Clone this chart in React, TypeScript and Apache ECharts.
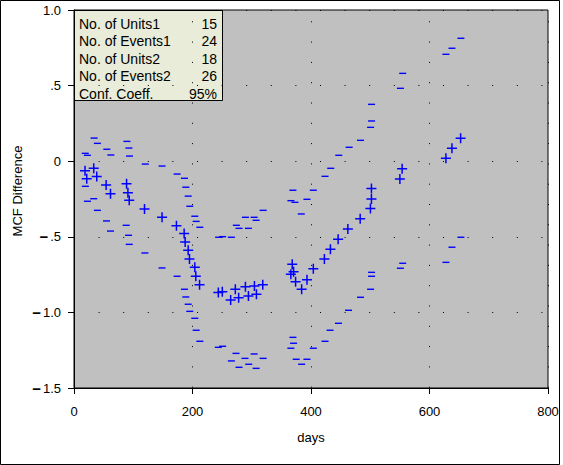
import { useEffect, useRef } from "react";
import * as echarts from "echarts";

// MCF difference estimate (days, value)
const mcfDiff: [number, number][] = [
  [18.6, -0.063], [21.5, -0.116], [33.3, -0.047], [38.4, -0.102], [54.2, -0.157],
  [61.6, -0.215], [88.7, -0.149], [91, -0.208], [93.2, -0.259], [119, -0.316],
  [148.6, -0.371], [172.9, -0.427], [185.9, -0.479], [187.6, -0.534], [192.7, -0.589],
  [194.9, -0.647], [203.9, -0.702], [205.6, -0.761], [211.9, -0.817], [243.6, -0.869],
  [250.3, -0.863], [264.4, -0.918], [272.3, -0.847], [277.9, -0.903], [289.3, -0.83],
  [294.4, -0.892], [304.5, -0.825], [307.9, -0.88], [318.6, -0.817], [366, -0.748],
  [368.3, -0.682], [370.6, -0.731], [374, -0.797], [384.2, -0.847], [393.2, -0.784],
  [403.9, -0.711], [422.6, -0.647], [432.8, -0.583], [445.8, -0.517], [462.2, -0.448],
  [483, -0.38], [500.3, -0.313], [502, -0.25], [502, -0.18], [550, -0.118],
  [553.8, -0.05], [627.7, 0.019], [637.9, 0.085], [652.5, 0.151],
];

// upper confidence limit
const upperLimit: [number, number][] = [
  [19, 0.052], [22.6, 0.039], [33.9, 0.153], [39.5, 0.118], [55.4, 0.079],
  [62.2, 0.041], [89.3, 0.131], [92.7, 0.087], [93.7, 0.034], [120.3, -0.019],
  [148.6, -0.032], [174, -0.085], [186.4, -0.113], [188.7, -0.172], [192.7, -0.231],
  [195.4, -0.298], [203.9, -0.364], [206.2, -0.398], [212.4, -0.437], [244.1, -0.503],
  [250.9, -0.499], [265.6, -0.503], [274, -0.424], [278.5, -0.444], [289.3, -0.371],
  [294.4, -0.444], [304, -0.371], [307.4, -0.391], [319.2, -0.325], [366.1, -0.261],
  [369.5, -0.192], [372.9, -0.272], [383.6, -0.349], [393.2, -0.252], [403.9, -0.192],
  [423.7, -0.1], [433.3, -0.047], [446.9, 0.039], [464.4, 0.092], [483.6, 0.138],
  [500.6, 0.224], [502.2, 0.266], [502.2, 0.376], [550.9, 0.482], [554.8, 0.581],
  [627.7, 0.707], [637.9, 0.747], [653, 0.813],
];

// lower confidence limit
const lowerLimit: [number, number][] = [
  [19.2, -0.166], [22.6, -0.265], [33.3, -0.248], [39.5, -0.325], [54.8, -0.395],
  [61.6, -0.462], [88.1, -0.424], [92.1, -0.49], [93.2, -0.55], [119.7, -0.607],
  [148.6, -0.706], [174, -0.761], [186.4, -0.847], [188.7, -0.898], [192.7, -0.946],
  [195.4, -0.993], [203.9, -1.039], [206.2, -1.118], [212.4, -1.191], [243.6, -1.231],
  [250.9, -1.224], [265.6, -1.321], [273.4, -1.271], [278.5, -1.363], [288.6, -1.304],
  [294.9, -1.343], [304, -1.275], [307.4, -1.37], [319.2, -1.304], [366, -1.237],
  [369.5, -1.165], [370.6, -1.204], [375, -1.31], [384.2, -1.343], [393.2, -1.31],
  [403.9, -1.237], [423.7, -1.191], [432.2, -1.118], [446.3, -1.072], [463.3, -0.986],
  [483.6, -0.9], [500.6, -0.847], [502.2, -0.761], [502.2, -0.735], [550.9, -0.708],
  [554.8, -0.675], [627.7, -0.669], [637.9, -0.569], [653, -0.503],
];

const legendLabels = ["No. of Units1", "No. of Events1", "No. of Units2", "No. of Events2", "Conf. Coeff."];
const legendValues = ["15", "24", "18", "26", "95%"];

const FONT = "'Liberation Sans', Arial, sans-serif";
const BLUE = "#0000FF";

function yLabel(v: number) {
  if (v === 0) return "0";
  const a = Math.abs(v);
  const s = a >= 1 ? a.toFixed(1) : a.toFixed(1).replace(/^0/, "");
  return v < 0 ? `{m|\u2212}${s}` : s;
}

export default function App() {
  const chartRef = useRef<HTMLDivElement>(null);

  useEffect(() => {
    if (!chartRef.current) return;
    const chart = echarts.init(chartRef.current, null, { renderer: "svg" });

    const rowY = [23.5, 41, 58.5, 76, 93.5];
    const legendTexts: any[] = [];
    legendLabels.forEach((t, i) => {
      legendTexts.push({
        type: "text",
        style: { text: t, x: 79, y: rowY[i], fill: "#000", fontSize: 14, fontFamily: FONT, align: "left", verticalAlign: "middle" },
      });
      legendTexts.push({
        type: "text",
        style: { text: legendValues[i], x: 217, y: rowY[i], fill: "#000", fontSize: 14, fontFamily: FONT, align: "right", verticalAlign: "middle" },
      });
    });

    const option = {
      animation: false,
      backgroundColor: "#fff",
      grid: {
        left: 74,
        top: 10,
        right: 15,
        bottom: 77,
        show: true,
        backgroundColor: "#C0C0C0",
        borderColor: "#000",
        borderWidth: 1,
      },
      xAxis: {
        type: "value",
        min: 0,
        max: 800,
        interval: 200,
        axisLine: { onZero: false, lineStyle: { color: "#000", width: 1 } },
        axisTick: { show: true, length: 6, lineStyle: { color: "#000" } },
        axisLabel: { color: "#000", fontSize: 13, fontFamily: FONT, margin: 17 },
        splitLine: { show: true, lineStyle: { color: "#000", width: 1, type: [1, 19.3], dashOffset: 8.6 } },
      },
      yAxis: {
        type: "value",
        min: -1.5,
        max: 1,
        interval: 0.5,
        axisLine: { show: true, onZero: false, lineStyle: { color: "#000", width: 1 } },
        axisTick: { show: true, length: 6, lineStyle: { color: "#000" } },
        axisLabel: {
          color: "#000",
          fontSize: 13,
          fontFamily: FONT,
          margin: 13,
          formatter: yLabel,
          rich: { m: { fontSize: 15, fontWeight: "bold", fontFamily: FONT, color: "#000", padding: [0, 2, 0, 0] } },
        },
        splitLine: { show: true, lineStyle: { color: "#000", width: 1, type: [1, 23.6] } },
      },
      graphic: [
        {
          type: "rect",
          z: 100,
          shape: { x: 0.5, y: 0.5, width: 559, height: 464 },
          style: { fill: "none", stroke: "#000", lineWidth: 1 },
        },
        {
          type: "group",
          z: 100,
          children: [
            {
              type: "rect",
              shape: { x: 74.5, y: 10.5, width: 148, height: 90 },
              style: { fill: "#E9ECD8", stroke: "#000", lineWidth: 1 },
            },
            ...legendTexts,
          ],
        },
        {
          type: "text",
          z: 100,
          x: 17,
          y: 191,
          rotation: Math.PI / 2,
          style: { text: "MCF Difference", fill: "#000", fontSize: 13, fontFamily: FONT, align: "center", verticalAlign: "middle" },
        },
        {
          type: "text",
          z: 100,
          style: { text: "days", x: 311, y: 437, fill: "#000", fontSize: 13, fontFamily: FONT, align: "center", verticalAlign: "middle" },
        },
      ],
      series: [
        {
          name: "upper",
          type: "scatter",
          data: upperLimit,
          symbol: "rect",
          symbolSize: [7, 1.4],
          itemStyle: { color: BLUE, opacity: 1 },
        },
        {
          name: "lower",
          type: "scatter",
          data: lowerLimit,
          symbol: "rect",
          symbolSize: [7, 1.4],
          itemStyle: { color: BLUE, opacity: 1 },
        },
        {
          name: "difference",
          type: "scatter",
          data: mcfDiff,
          symbol: "path://M5 0L5 10M0 5L10 5",
          symbolSize: 10,
          itemStyle: { color: "rgba(0,0,0,0)", borderColor: BLUE, borderWidth: 1.5, opacity: 1 },
        },
      ],
    };

    chart.setOption(option);
    return () => {
      chart.dispose();
    };
  }, []);

  return (
    <div
      ref={chartRef}
      style={{ position: "fixed", left: 0, top: 0, width: "563px", height: "465px", background: "#fff" }}
    ></div>
  );
}
